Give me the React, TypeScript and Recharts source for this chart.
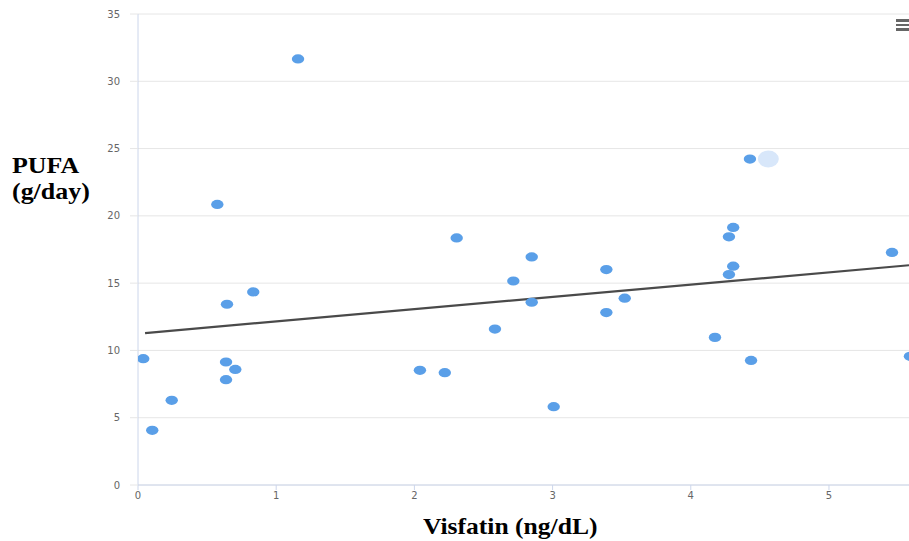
import React from "react";
import {
  ScatterChart,
  Scatter,
  XAxis,
  YAxis,
  CartesianGrid,
} from "recharts";

// Visfatin (ng/dL) values
const visfatin = [
  0.038, 0.103, 0.244, 0.574, 0.644, 0.637, 0.637, 0.704, 0.834, 1.158,
  2.04, 2.22, 2.306, 2.583, 2.716, 2.849, 2.849, 3.008, 3.389, 3.389,
  3.522, 4.175, 4.276, 4.307, 4.276, 4.307, 4.428, 4.436, 5.456, 5.586,
];

// PUFA (g/day) values
const pufa = [
  9.39, 4.06, 6.29, 20.85, 13.43, 9.14, 7.83, 8.59, 14.35, 31.66,
  8.52, 8.35, 18.36, 11.59, 15.16, 16.95, 13.58, 5.82, 16.01, 12.81,
  13.88, 10.97, 18.44, 19.14, 15.64, 16.26, 24.22, 9.26, 17.28, 9.56,
];

// hovered point halo
const hoverX = [4.561];
const hoverY = [24.22];

// trend line ends
const trendX = [0.051, 5.579];
const trendY = [11.29, 16.33];

const xTicks = [0, 1, 2, 3, 4, 5];
const yTicks = [0, 5, 10, 15, 20, 25, 30, 35];

const points = visfatin.map((x, i) => ({ x, y: pufa[i] }));
const hover = hoverX.map((x, i) => ({ x, y: hoverY[i] }));
const trend = trendX.map((x, i) => ({ x, y: trendY[i] }));

const Dot = (props: any) => (
  <ellipse cx={props.cx} cy={props.cy} rx={6.2} ry={4.6} fill="#5a9fe8" />
);

const Halo = (props: any) => (
  <ellipse cx={props.cx} cy={props.cy} rx={10.5} ry={8.5} fill="#d8e7fa" />
);

const titleStyle: React.CSSProperties = {
  position: "absolute",
  fontFamily: "'Liberation Serif', serif",
  fontWeight: "bold",
  fontSize: 24,
  color: "#000",
  lineHeight: "26px",
  transformOrigin: "left top",
  whiteSpace: "nowrap",
};

const bar: React.CSSProperties = {
  position: "absolute",
  left: 896,
  width: 14,
  height: 2.5,
  background: "#666",
};

export default function App() {
  return (
    <div
      style={{
        position: "absolute",
        left: 0,
        top: 0,
        width: 909,
        height: 541,
        overflow: "hidden",
        background: "#fff",
      }}
    >
      <ScatterChart
        width={909}
        height={541}
        margin={{ top: 14, right: 0, bottom: 0, left: 0 }}
      >
        <CartesianGrid vertical={false} stroke="#e6e6e6" />
        <XAxis
          type="number"
          dataKey="x"
          domain={[0, 5.579]}
          allowDataOverflow
          ticks={xTicks}
          height={56}
          stroke="#ccd6eb"
          tickSize={5}
          tick={{ fontSize: 10, fill: "#666", fontFamily: "DejaVu Sans" }}
        />
        <YAxis
          type="number"
          dataKey="y"
          domain={[0, 35]}
          ticks={yTicks}
          width={138}
          axisLine={{ stroke: "#ccd6eb" }}
          tickLine={{ stroke: "#e6e6e6" }}
          tickSize={8}
          tickMargin={10}
          tick={{ fontSize: 10, fill: "#666", fontFamily: "DejaVu Sans" }}
        />
        <Scatter
          data={trend}
          line={{ stroke: "#4a4a4a", strokeWidth: 2.2 }}
          shape={() => null}
          isAnimationActive={false}
        />
        <Scatter data={hover} shape={Halo} isAnimationActive={false} />
        <Scatter data={points} shape={Dot} isAnimationActive={false} />
      </ScatterChart>
      <div style={{ ...titleStyle, left: 12, top: 152, transform: "scaleX(1.08)" }}>
        PUFA
        <br />
        (g/day)
      </div>
      <div style={{ ...titleStyle, left: 423, top: 513, transform: "scaleX(1.065)" }}>
        Visfatin (ng/dL)
      </div>
      <div style={{ ...bar, top: 19 }} />
      <div style={{ ...bar, top: 23.5 }} />
      <div style={{ ...bar, top: 28 }} />
    </div>
  );
}
